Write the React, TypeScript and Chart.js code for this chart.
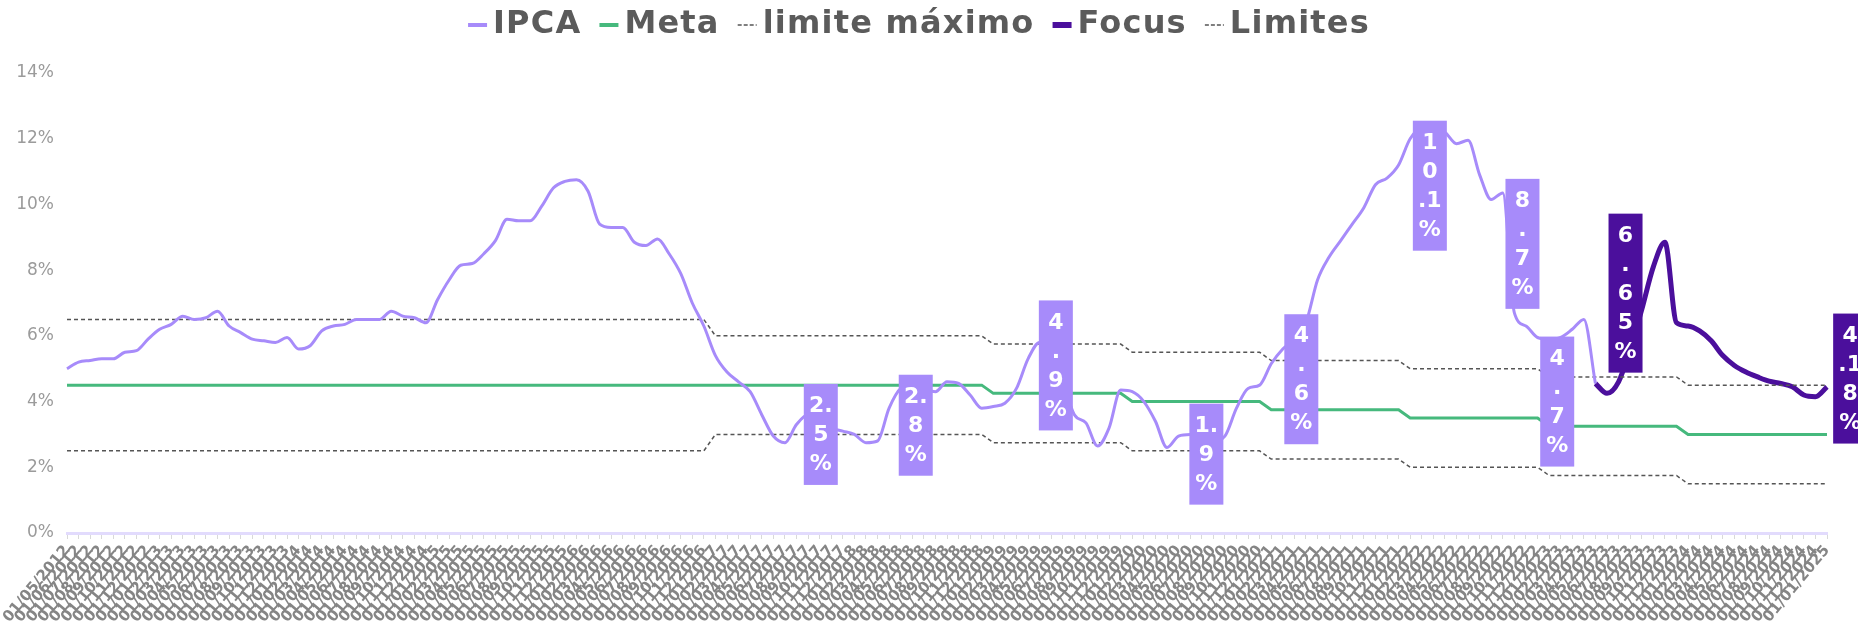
import React, { useEffect, useRef } from 'react';
import { Chart, registerables } from 'chart.js';

Chart.register(...registerables);

// ---------- categories (monthly) ----------
const FIRST_YEAR = 2012;
const FIRST_MONTH = 5;
const MONTH_COUNT = 153;

const categories: string[] = [];
for (let k = 0; k < MONTH_COUNT; k++) {
  const m0 = FIRST_MONTH - 1 + k;
  const yy = FIRST_YEAR + Math.floor(m0 / 12);
  const mm = (m0 % 12) + 1;
  categories.push(`01/${String(mm).padStart(2, '0')}/${yy}`);
}

// ---------- inflation target table (by year) ----------
const targetYears = [2012, 2013, 2014, 2015, 2016, 2017, 2018, 2019, 2020, 2021, 2022, 2023, 2024, 2025];
const metaByYear = [4.5, 4.5, 4.5, 4.5, 4.5, 4.5, 4.5, 4.25, 4.0, 3.75, 3.5, 3.25, 3.0, 3.0];
const upperByYear = [6.5, 6.5, 6.5, 6.5, 6.5, 6.0, 6.0, 5.75, 5.5, 5.25, 5.0, 4.75, 4.5, 4.5];
const lowerByYear = [2.5, 2.5, 2.5, 2.5, 2.5, 3.0, 3.0, 2.75, 2.5, 2.25, 2.0, 1.75, 1.5, 1.5];

// ---------- IPCA (12m, %) ----------
const ipca = [
  5.0, 5.2, 5.25, 5.3, 5.3, 5.5, 5.55, 5.9, 6.2, 6.35,
  6.6, 6.5, 6.55, 6.75, 6.3, 6.1, 5.9, 5.85, 5.8, 5.95,
  5.6, 5.7, 6.15, 6.3, 6.35, 6.5, 6.5, 6.5, 6.75, 6.6,
  6.55, 6.4, 7.1, 7.7, 8.15, 8.2, 8.5, 8.9, 9.55, 9.5,
  9.5, 9.95, 10.5, 10.7, 10.75, 10.4, 9.4, 9.3, 9.3, 8.85,
  8.75, 8.95, 8.5, 7.9, 7.0, 6.3, 5.4, 4.9, 4.6, 4.3,
  3.6, 2.95, 2.75, 3.3, 3.6, 3.5, 3.2, 3.1, 3.0, 2.75,
  2.8, 3.8, 4.4, 4.5, 4.4, 4.3, 4.6, 4.55, 4.2, 3.8,
  3.85, 3.95, 4.4, 5.3, 5.8, 5.7, 4.6, 3.6, 3.35, 2.65,
  3.2, 4.35, 4.3, 4.0, 3.4, 2.6, 2.95, 3.0, 2.9, 2.8,
  2.95, 3.8, 4.4, 4.5, 5.15, 5.6, 5.9, 6.4, 7.7, 8.4,
  8.9, 9.4, 9.9, 10.6, 10.8, 11.2, 12.0, 12.3, 12.3, 12.2,
  11.85, 11.95, 10.9, 10.15, 10.35, 6.7, 6.3, 5.95, 5.9, 5.95,
  6.2, 6.5, 4.55,
];

// ---------- Focus expectations (%) ----------
const FOCUS_START = 132;
const focus = [
  4.55, 4.25, 4.6, 5.6, 6.8, 8.1, 8.85, 6.4, 6.3, 6.15,
  5.85, 5.4, 5.1, 4.9, 4.75, 4.62, 4.55, 4.45, 4.2, 4.15,
  4.45,
];

// ---------- value callouts ----------
const boxIndex = [65.1, 73.3, 85.4, 98.4, 106.6, 117.7, 125.7, 128.7, 134.6, 154.0];
const boxValue = [3.0, 3.28, 5.1, 2.4, 4.68, 10.57, 8.8, 4.0, 7.3, 4.7];
const boxText = ['2.\n5\n%', '2.\n8\n%', '4\n.\n9\n%', '1.\n9\n%', '4\n.\n6\n%', '1\n0\n.1\n%', '8\n.\n7\n%', '4\n.\n7\n%', '6\n.\n6\n5\n%', '4\n.1\n8\n%'];
const boxSeries = ['ipca', 'ipca', 'ipca', 'ipca', 'ipca', 'ipca', 'ipca', 'ipca', 'focus', 'focus'];

const yTicks = [0, 2, 4, 6, 8, 10, 12, 14];

// ---------- styles ----------
const IPCA_COLOR = '#a78bfa';
const FOCUS_COLOR = '#4b0f9c';
const META_COLOR = '#46b97d';
const LIMIT_COLOR = '#555555';
const LEGEND_FONT = 32;
const LEGEND_SPACING = '1.2px';

const yearOf = (label: string) => Number(label.slice(-4));
const byYear = (table: number[]) => categories.map((c) => table[targetYears.indexOf(yearOf(c))]);

const metaData = byYear(metaByYear);
const upperData = byYear(upperByYear);
const lowerData = byYear(lowerByYear);
const focusData: (number | null)[] = categories.map((_, i) =>
  i >= FOCUS_START && i - FOCUS_START < focus.length ? focus[i - FOCUS_START] : null
);

// legend marker images: line sits close to the text
const legendMarkerSpec = [
  { color: IPCA_COLOR, width: 4, dash: [] as number[] },
  { color: META_COLOR, width: 4, dash: [] as number[] },
  { color: LIMIT_COLOR, width: 1.5, dash: [4, 2] },
  { color: FOCUS_COLOR, width: 6, dash: [] as number[] },
  { color: LIMIT_COLOR, width: 1.5, dash: [4, 2] },
];
function makeMarker(color: string, width: number, dash: number[]) {
  const c = document.createElement('canvas');
  c.width = 44;
  c.height = 12;
  const g = c.getContext('2d')!;
  g.strokeStyle = color;
  g.lineWidth = width;
  g.setLineDash(dash);
  g.beginPath();
  g.moveTo(23, 6);
  g.lineTo(42, 6);
  g.stroke();
  return c;
}

const legendBlockPlugin = {
  id: 'legendBlock',
  beforeLayout(chart: any) {
    const legend = chart.legend;
    if (legend && !legend.__patched) {
      const fit = legend.fit;
      const draw = legend.draw;
      legend.fit = function () {
        const ctx: any = this.ctx;
        const prev = ctx.letterSpacing;
        ctx.letterSpacing = LEGEND_SPACING;
        fit.call(this);
        ctx.letterSpacing = prev;
        this.height = 71;
      };
      legend.draw = function () {
        const ctx: any = this.ctx;
        const prev = ctx.letterSpacing;
        ctx.letterSpacing = LEGEND_SPACING;
        draw.call(this);
        ctx.letterSpacing = prev;
      };
      legend.__patched = true;
    }
  },
};

const boxesPlugin = {
  id: 'valueBoxes',
  afterDatasetsDraw(chart: any) {
    const { ctx, scales } = chart;
    const xs = scales.x;
    const ys = scales.y;
    const W = 34;
    const LINE = 29;
    const PAD = 7;
    ctx.save();
    ctx.font = 'bold 22px "DejaVu Sans"';
    ctx.textAlign = 'center';
    ctx.textBaseline = 'middle';
    boxText.forEach((t, k) => {
      const lines = t.split('\n');
      const h = lines.length * LINE + 2 * PAD;
      const cx = xs.getPixelForValue(boxIndex[k]);
      const cy = ys.getPixelForValue(boxValue[k]);
      ctx.fillStyle = boxSeries[k] === 'focus' ? FOCUS_COLOR : IPCA_COLOR;
      ctx.fillRect(cx - W / 2, cy - h / 2, W, h);
      ctx.fillStyle = '#ffffff';
      lines.forEach((ln, j) => {
        ctx.fillText(ln, cx, cy - h / 2 + PAD + LINE * (j + 0.5) + 1);
      });
    });
    ctx.restore();
  },
};

export default function App() {
  const ref = useRef<HTMLCanvasElement>(null);

  useEffect(() => {
    if (!ref.current) return;
    const markers = legendMarkerSpec.map((m) => makeMarker(m.color, m.width, m.dash));
    const chart = new Chart(ref.current, {
      type: 'line',
      data: {
        labels: categories,
        datasets: [
          {
            label: 'IPCA',
            data: ipca,
            borderColor: IPCA_COLOR,
            backgroundColor: IPCA_COLOR,
            borderWidth: 3,
            pointRadius: 0,
            cubicInterpolationMode: 'monotone',
          },
          {
            label: 'Meta',
            data: metaData,
            borderColor: META_COLOR,
            backgroundColor: META_COLOR,
            borderWidth: 3,
            pointRadius: 0,
            tension: 0,
          },
          {
            label: 'limite máximo',
            data: upperData,
            borderColor: LIMIT_COLOR,
            backgroundColor: LIMIT_COLOR,
            borderWidth: 1.5,
            borderDash: [4, 3],
            pointRadius: 0,
            tension: 0,
          },
          {
            label: 'Focus',
            data: focusData,
            borderColor: FOCUS_COLOR,
            backgroundColor: FOCUS_COLOR,
            borderWidth: 5,
            pointRadius: 0,
            cubicInterpolationMode: 'monotone',
          },
          {
            label: 'Limites',
            data: lowerData,
            borderColor: LIMIT_COLOR,
            backgroundColor: LIMIT_COLOR,
            borderWidth: 1.5,
            borderDash: [4, 3],
            pointRadius: 0,
            tension: 0,
          },
        ],
      },
      options: {
        animation: false,
        responsive: true,
        maintainAspectRatio: false,
        layout: { padding: { top: 2, right: 31, left: 0, bottom: 0 } },
        plugins: {
          tooltip: { enabled: false },
          legend: {
            position: 'top',
            align: 'center',
            labels: {
              usePointStyle: true,
              pointStyleWidth: 20,
              boxHeight: 10,
              padding: 7,
              color: '#5b5b5b',
              font: { family: '"DejaVu Sans"', size: LEGEND_FONT, weight: 'bold' },
              generateLabels: (c: any) =>
                Chart.defaults.plugins.legend.labels.generateLabels(c).map((l: any) => ({
                  ...l,
                  pointStyle: markers[l.datasetIndex],
                })),
            },
          },
        },
        scales: {
          x: {
            type: 'category',
            offset: false,
            grid: {
              display: true,
              drawOnChartArea: false,
              drawTicks: true,
              tickLength: 6,
              color: '#d9d9d9',
            },
            border: { display: true, color: '#e2dbfd', width: 3 },
            ticks: {
              autoSkip: false,
              minRotation: 50,
              maxRotation: 50,
              padding: 3,
              color: '#858585',
              font: { family: '"DejaVu Sans"', size: 15, weight: 'bold' },
            },
            afterFit: (s: any) => {
              s.height = 94;
              s.paddingLeft = 0;
              s.paddingRight = 0;
            },
          },
          y: {
            min: 0,
            max: 14,
            grid: { display: false, drawTicks: false },
            border: { display: false },
            afterBuildTicks: (s: any) => {
              s.ticks = yTicks.map((v) => ({ value: v }));
            },
            ticks: {
              padding: 13,
              color: '#9b9b9b',
              font: { family: '"DejaVu Sans"', size: 17 },
              callback: (v: any) => `${v}%`,
            },
            afterFit: (s: any) => {
              s.width = 67;
            },
          },
        },
      },
      plugins: [legendBlockPlugin, boxesPlugin],
    });
    return () => chart.destroy();
  }, []);

  return (
    <div style={{ position: 'fixed', left: 0, top: 0, width: '1858px', height: '627px', background: '#ffffff' }}>
      <canvas ref={ref} />
    </div>
  );
}
